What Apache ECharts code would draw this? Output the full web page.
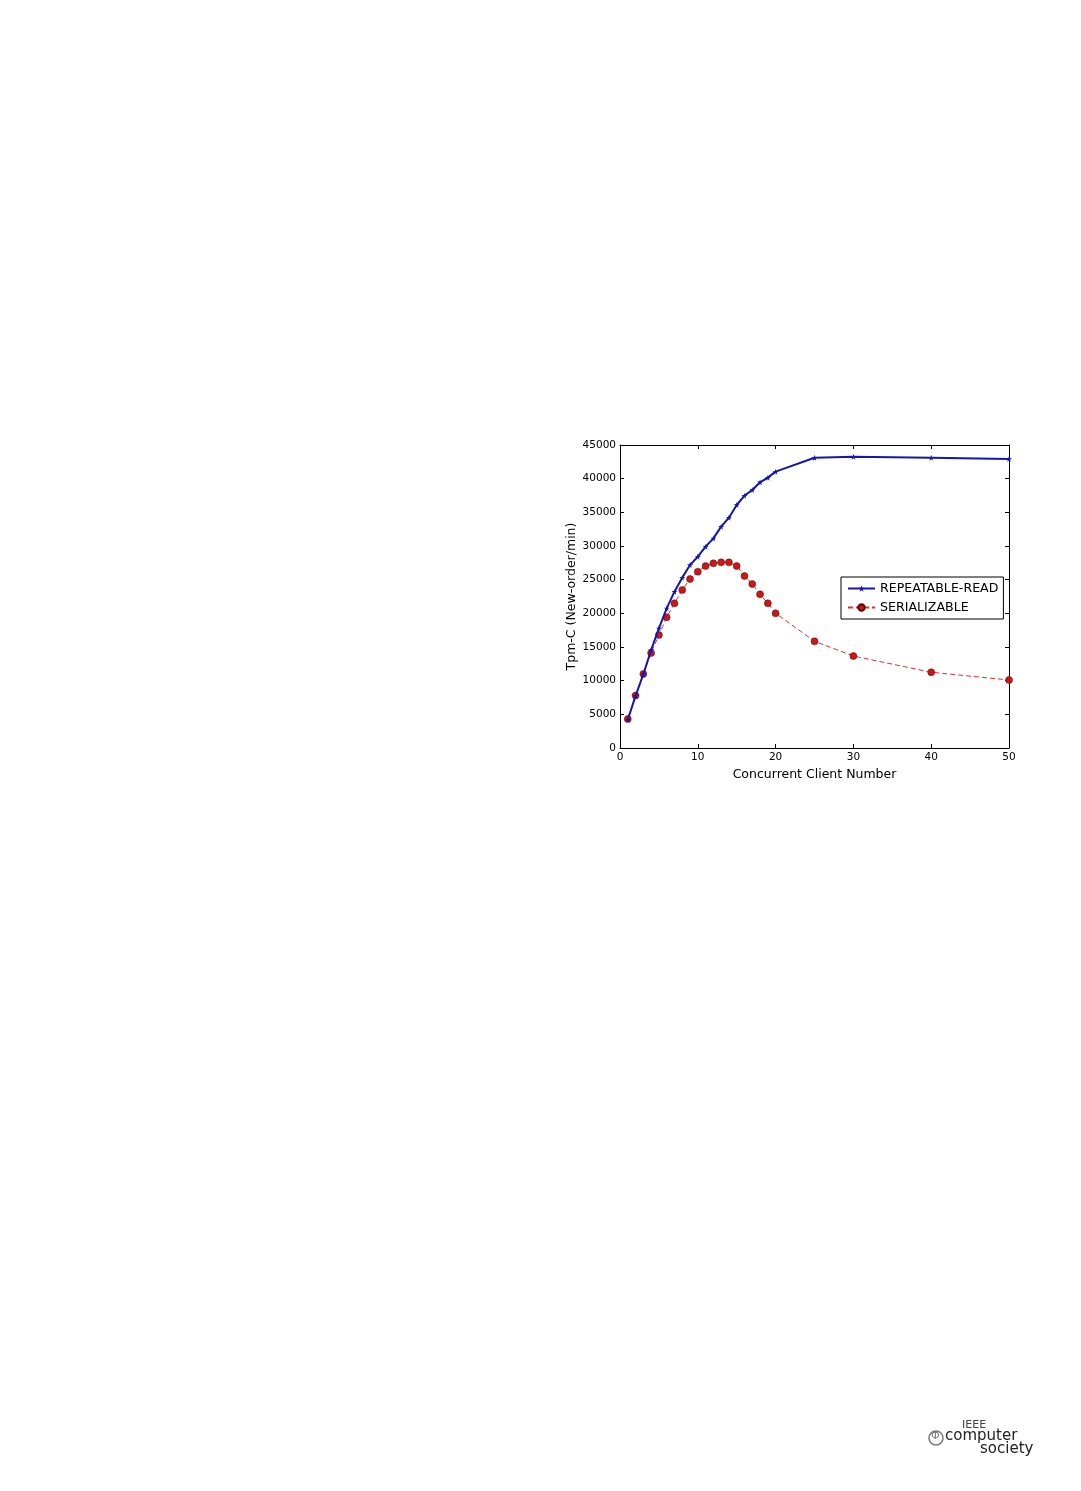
<!DOCTYPE html>
<html><head><meta charset="utf-8">
<script src="https://cdn.jsdelivr.net/npm/echarts@6/dist/echarts.min.js"></script>
<style>html,body{margin:0;padding:0;background:#fff}#c{width:1081px;height:1491px}</style>
</head><body><div id="c"></div>
<script>
const clients = [1,2,3,4,5,6,7,8,9,10,11,12,13,14,15,16,17,18,19,20,25,30,40,50];
const repeatableRead = [4200,7750,10950,14550,17770,20740,23220,25300,27180,28420,29900,31140,32870,34210,36090,37480,38320,39460,40150,41040,43100,43270,43120,42920];
const serializable = [4300,7800,11000,14110,16780,19410,21490,23470,25100,26190,27030,27430,27570,27570,27030,25550,24360,22820,21490,20000,15850,13660,11250,10100];
const seriesNames = ['REPEATABLE-READ','SERIALIZABLE'];
const xTitle = 'Concurrent Client Number';
const yTitle = 'Tpm-C (New-order/min)';

const star = 'path://M50,0 L61,35 L98,35 L68,57 L79,91 L50,70 L21,91 L32,57 L2,35 L39,35 Z';
const font = 'DejaVu Sans';
const ax = {
  axisLine:{show:true,onZero:false,lineStyle:{color:'#000',width:1}},
  axisTick:{show:true,inside:true,length:4,lineStyle:{color:'#000'}},
  splitLine:{show:false}
};
const chart = echarts.init(document.getElementById('c'));
chart.setOption({
  backgroundColor:'#fff',
  animation:false,
  grid:{left:620,top:445,right:72,bottom:743,containLabel:false},
  xAxis:[
    Object.assign({type:'value',min:0,max:50,interval:10,position:'bottom',
      name:xTitle,nameLocation:'middle',nameGap:20,
      nameTextStyle:{fontFamily:font,fontSize:12.5,color:'#000'},
      axisLabel:{fontFamily:font,fontSize:10.5,color:'#000',margin:4,formatter:v=>String(v)}},ax),
    Object.assign({type:'value',min:0,max:50,interval:10,position:'top',
      axisLabel:{show:false}},ax)
  ],
  yAxis:[
    Object.assign({type:'value',min:0,max:45000,interval:5000,position:'left',
      name:yTitle,nameLocation:'middle',nameGap:42,
      nameTextStyle:{fontFamily:font,fontSize:12.5,color:'#000'},
      axisLabel:{fontFamily:font,fontSize:10.5,color:'#000',margin:4,formatter:v=>String(v)}},ax),
    Object.assign({type:'value',min:0,max:45000,interval:5000,position:'right',
      axisLabel:{show:false}},ax)
  ],
  legend:{
    left:841,top:577,orient:'vertical',
    backgroundColor:'#fff',borderColor:'#000',borderWidth:1,borderRadius:0,
    padding:[5,5,5,6],itemGap:6,itemWidth:27,itemHeight:8,
    textStyle:{fontFamily:font,fontSize:12.6,color:'#000',padding:[0,0,0,0]},
    data:seriesNames
  },
  series:[
    {name:seriesNames[0],type:'line',
     data:clients.map((x,i)=>[x,repeatableRead[i]]),
     lineStyle:{color:'#1515b0',width:2},
     itemStyle:{color:'#1515b0'},
     symbol:star,symbolSize:6,showSymbol:true,z:3},
    {name:seriesNames[1],type:'line',
     data:clients.map((x,i)=>[x,serializable[i]]),
     lineStyle:{color:'#e03030',width:1,type:[5,3]},
     itemStyle:{color:'#c81818',borderColor:'#5a0a0a',borderWidth:0.5},
     symbol:'circle',symbolSize:7,showSymbol:true,z:2}
  ],
  graphic:[
    {type:'circle',shape:{cx:936,cy:1438,r:7},style:{fill:'#fff',stroke:'#777',lineWidth:1.5}},
    {type:'text',left:931,top:1431,style:{text:'Φ',font:'11px DejaVu Sans',fill:'#777'}},
    {type:'text',left:962,top:1420,style:{text:'IEEE',font:'11px "DejaVu Sans"',fill:'#444'}},
    {type:'text',left:945,top:1429,style:{text:'computer',font:'15px "DejaVu Sans"',fill:'#222'}},
    {type:'text',left:980,top:1442,style:{text:'society',font:'15px "DejaVu Sans"',fill:'#222'}}
  ]
});
</script>
</body></html>
